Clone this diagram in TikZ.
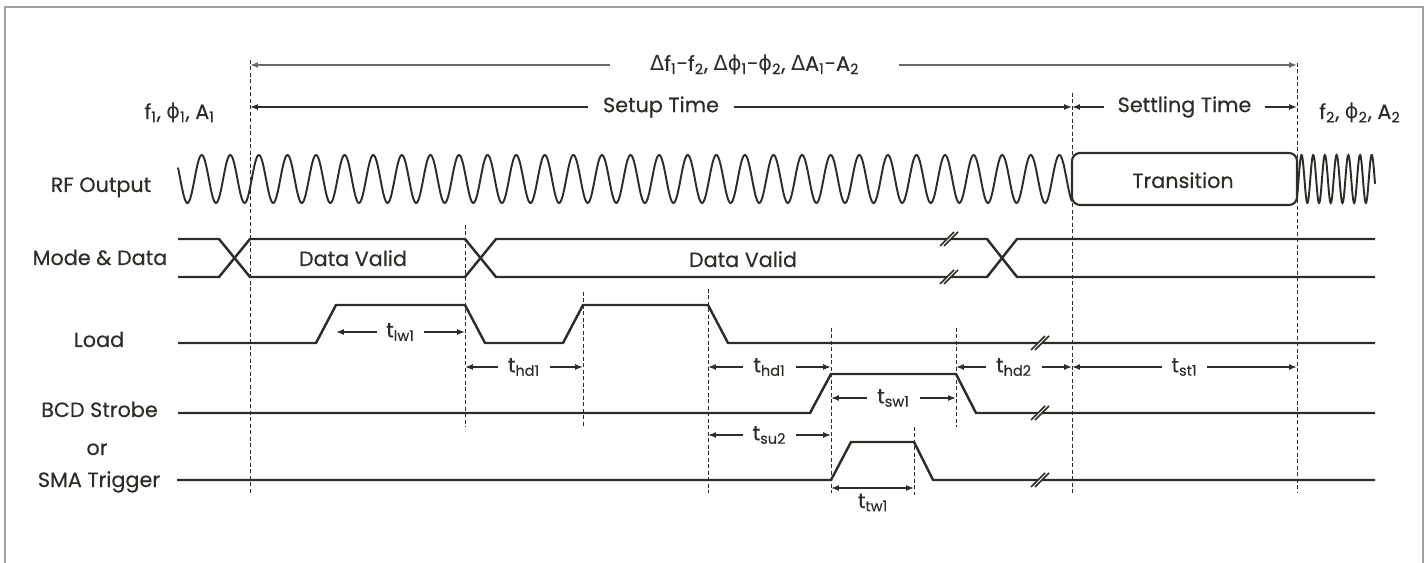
\documentclass[tikz,border=0pt]{standalone}
\usepackage{fontspec}
\setmainfont{Poppins}[FakeBold=0.35]
\newfontfamily\greekfont{DejaVu Sans}
\usepackage{tikz}
\usetikzlibrary{arrows.meta}
\definecolor{Ink_Dark}{HTML}{2F2C28}
\definecolor{Ink_Gray}{HTML}{686868}
\definecolor{Frame_Gray}{HTML}{A0A0A0}

\newcommand{\grk}[1]{{\greekfont #1}}

\tikzset{
    sig/.style={line width=1.4pt, Ink_Dark},
    wave/.style={line width=1.1pt, Ink_Dark},
    guide/.style={Ink_Dark, line width=0.5pt, dash pattern=on 0.08cm off 0.05cm},
    dim/.style={{Latex[length=4.5pt,width=3.4pt]}-{Latex[length=4.5pt,width=3.4pt]}, line width=0.8pt, Ink_Dark},
    gap/.style={fill=white, inner xsep=0.2cm, inner ysep=1pt, text=Ink_Dark},
    signame/.style={anchor=base, text=Ink_Dark},
    brk/.pic={
        \fill[white] (-9,7) -- (5,-7) -- (9,-7) -- (-5,7) -- cycle;
        \draw[Ink_Dark, line width=0.9pt] (-9,7) -- (5,-7) (-5,7) -- (9,-7);
    }
}

\begin{document}
\begin{tikzpicture}[x=0.02cm, y=-0.02cm, font=\fontsize{11.8}{14}\selectfont]
    \useasboundingbox (0,0) rectangle (1425,563);

    % === Frame ===
    \draw[Frame_Gray, line width=0.8pt] (5,563) -- (5,7) -- (1423,7) -- (1423,563);

    % Time marks
    \coordinate (tA) at (250,0);
    \coordinate (tB) at (465,0);
    \coordinate (tC) at (583,0);
    \coordinate (tD) at (708,0);
    \coordinate (tE) at (831,0);
    \coordinate (tI) at (914,0);
    \coordinate (tF) at (956,0);
    \coordinate (tG) at (1072,0);
    \coordinate (tH) at (1297,0);
    \coordinate (ldHi) at (336,0);

    % === Dashed time marks ===
    \draw[guide] (tA |- 0,60) -- (tA |- 0,493);
    \draw[guide] (tB |- 0,225) -- (tB |- 0,427);
    \draw[guide] (tC |- 0,292) -- (tC |- 0,428);
    \draw[guide] (tD |- 0,289) -- (tD |- 0,493);
    \draw[guide] (tE |- 0,328) -- (tE |- 0,493);
    \draw[guide] (tI |- 0,427) -- (tI |- 0,495);
    \draw[guide] (tF |- 0,328) -- (tF |- 0,427);
    \draw[guide] (tG |- 0,93) -- (tG |- 0,493);
    \draw[guide] (tH |- 0,63) -- (tH |- 0,493);

    % === Top spans ===
    \draw[dim, Ink_Gray] (tA |- 0,65) -- node[gap, inner xsep=0.8cm, pos=0.482] (dltLbl)
        {\grk{Δ}f\textsubscript{1}-f\textsubscript{2}, \grk{Δϕ}\textsubscript{1}-\grk{ϕ}\textsubscript{2}, \grk{Δ}A\textsubscript{1}-A\textsubscript{2}} (tH |- 0,65);
    \draw[dim] (tA |- 0,107) -- node[gap, inner xsep=0.3cm] (setupLbl) {Setup Time} (tG |- 0,107);
    \draw[dim] (tG |- 0,107) -- node[gap, inner xsep=0.28cm] (settleLbl) {Settling Time} (tH |- 0,107);

    \node[anchor=base east, text=Ink_Dark] (stOne) at (221,119)
        {f\textsubscript{1}, \grk{ϕ}\textsubscript{1}, A\textsubscript{1}};
    \node[anchor=base west, text=Ink_Dark] (stTwo) at (1313,119)
        {f\textsubscript{2}, \grk{ϕ}\textsubscript{2}, A\textsubscript{2}};

    % === RF Output ===
    \node[signame] (rfName) at (101,192) {RF Output};
    \draw[wave] plot[domain=178:1072, samples=900] (\x, {179-24*cos(((\x-201.7)/28.59)*360)});
    \draw[sig, line width=1.2pt, rounded corners=0.16cm] (tG |- 0,153) rectangle (tH |- 0,205);
    \node[signame] (transLbl) at (1183,188) {Transition};
    \draw[wave] plot[domain=1297:1375, samples=200] (\x, {179-24*cos(((\x-1301.5)/11.7)*360)});

    % === Mode & Data ===
    \node[signame] (modeName) at (100,265) {Mode \& Data};
    \draw[sig] (178,239) -- (219,239) -- (250,277) -- (465,277) -- (496,239) -- (987,239) -- (1017,277) -- (1375,277);
    \draw[sig] (178,277) -- (219,277) -- (250,239) -- (465,239) -- (496,277) -- (987,277) -- (1017,239) -- (1375,239);
    \node[signame] (validOne) at (353,266) {Data Valid};
    \node[signame] (validTwo) at (743,267) {Data Valid};
    \pic at (949,239) {brk};
    \pic at (949,277) {brk};

    % === Load ===
    \node[signame] (loadName) at (99,347) {Load};
    \draw[sig] (178,343) -- (316,343) -- (336,305) -- (465,305) -- (485,343) -- (563,343) -- (583,305) -- (708,305) -- (728,343) -- (1375,343);
    \pic at (1040,343) {brk};
    \draw[dim] (ldHi |- 0,332) -- node[gap, inner xsep=0.18cm] (lwLbl) {t\textsubscript{lw1}} (tB |- 0,332);

    % hold / settle spans
    \draw[dim] (tB |- 0,367) -- node[gap] (hdOne) {t\textsubscript{hd1}} (tC |- 0,367);
    \draw[dim] (tD |- 0,367) -- node[gap] (hdTwo) {t\textsubscript{hd1}} (tE |- 0,367);
    \draw[dim] (tF |- 0,367) -- node[gap] (hdThree) {t\textsubscript{hd2}} (tG |- 0,367);
    \draw[dim] (tG |- 0,367) -- node[gap] (stLbl) {t\textsubscript{st1}} (tH |- 0,367);

    % === BCD Strobe ===
    \node[signame] (bcdName) at (99.5,417) {BCD Strobe};
    \draw[sig] (178,413) -- (810,413) -- (831,374) -- (956,374) -- (976,413) -- (1375,413);
    \pic at (1040,413) {brk};
    \draw[dim] (tE |- 0,398) -- node[gap] (swLbl) {t\textsubscript{sw1}} (tF |- 0,398);

    \node[signame] (orName) at (97,455) {or};

    % === SMA Trigger ===
    \node[signame] (smaName) at (99,487) {SMA Trigger};
    \draw[sig] (177,480) -- (831,480) -- (851,442) -- (914,442) -- (933,480) -- (1375,480);
    \pic at (1040,480) {brk};
    \draw[dim] (tD |- 0,435) -- node[gap] (suLbl) {t\textsubscript{su2}} (tE |- 0,435);
    \draw[dim] (tE |- 0,488) -- (tI |- 0,488);
    \node[signame] (twLbl) at (873,508) {t\textsubscript{tw1}};

\end{tikzpicture}
\end{document}
